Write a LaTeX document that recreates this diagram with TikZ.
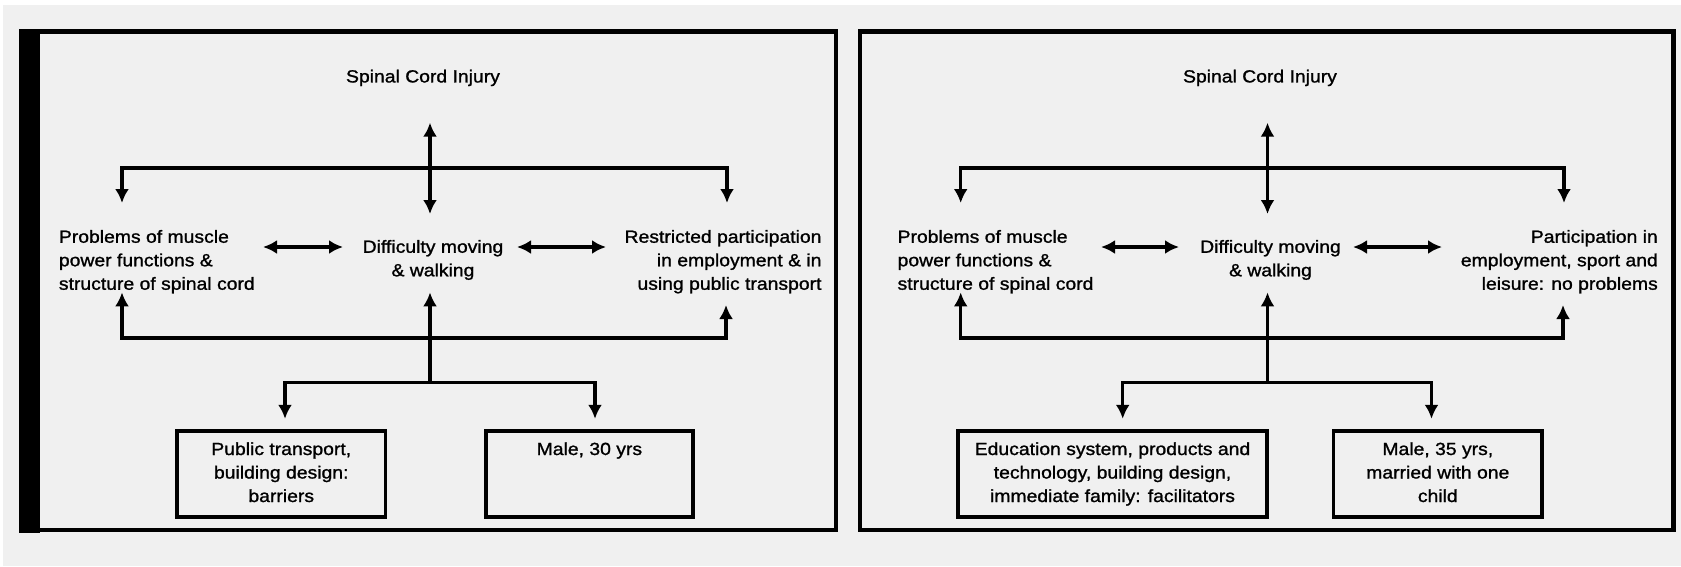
\documentclass[tikz,border=0pt]{standalone}
\usepackage{fontspec}
\setmainfont{Liberation Sans}[FakeStretch=1.1, FakeBold=1.2]
\usetikzlibrary{arrows.meta}
\definecolor{bgc}{HTML}{F0F0F0}
\newcommand{\fsz}{\fontsize{17.6pt}{23.5pt}\selectfont}
\newcommand{\firstline}{\rule{0pt}{24pt}}
\begin{document}
\begin{tikzpicture}[x=1pt,y=-1pt,
  conn/.style={line width=3.2pt, >={Latex[length=14pt,width=14pt]}},
  frame/.style={draw=black, line width=4.5pt},
  lbl/.style={inner sep=0pt, font=\fsz},
  boxnode/.style={draw=black, line width=3.8pt, inner sep=0pt, font=\fsz}]
\useasboundingbox (0,0) rectangle (1681,566);
\fill[bgc] (0,0) rectangle (1681,566);
\fill[white] (0,0) rectangle (1681,5);
\fill[white] (0,0) rectangle (3,566);

% ---------------- left panel ----------------
\draw[frame] (30,31.5) rectangle (836,530);
\fill[black] (18.7,29) rectangle (40,533);

\node[lbl, anchor=north] (Lsci) at (423,69.5) {Spinal Cord Injury};
\node[lbl, anchor=north west, align=left] (Lbody) at (58.7,229.8) {Problems of muscle\\power functions \&\\structure of spinal cord};
\node[lbl, anchor=north, align=center] (Lmove) at (433,239.8) {Difficulty moving\\\& walking};
\node[lbl, anchor=north east, align=right] (Lpart) at (821.7,229.8) {Restricted participation\\in employment \& in\\using public transport};
\node[boxnode] (Lenv) at (281.25,474) {\parbox[c][86pt][t]{208.5pt}{\centering\firstline Public transport,\\building design:\\barriers}};
\node[boxnode] (Lpers) at (589.4,474) {\parbox[c][86pt][t]{206.8pt}{\centering\firstline Male, 30 yrs}};

\coordinate (LsciB) at (430,122.7);
\coordinate (LmoveT) at (430,214);
\coordinate (LjT) at (430,168);
\coordinate (LbodyT) at (122,203);
\coordinate (LpartT) at (727,203);
\coordinate (LbodyR) at (263,247);
\coordinate (LmoveL) at (343,247);
\coordinate (LmoveR) at (517,247);
\coordinate (LpartL) at (606,247);
\coordinate (LjB) at (430,338);
\coordinate (LbodyB) at (122,292.4);
\coordinate (LpartB) at (726,305);
\coordinate (LmoveB) at (430,292.4);
\coordinate (LjE) at (430,382.7);
\coordinate (LenvT) at (285,418.8);
\coordinate (LpersT) at (595,418.8);

\draw[conn,<->] (LsciB) -- (LmoveT);
\draw[conn,->] (LjT) -| (LbodyT);
\draw[conn,->] (LjT) -| (LpartT);
\draw[conn,<->] (LbodyR) -- (LmoveL);
\draw[conn,<->] (LmoveR) -- (LpartL);
\draw[conn,->] (LjB) -| (LbodyB);
\draw[conn,->] (LjB) -| (LpartB);
\draw[conn,->] (LjE) -- (LmoveB);
\draw[conn,->] (LjE) -| (LenvT);
\draw[conn,->] (LjE) -| (LpersT);

% ---------------- right panel ----------------
\draw[frame] (860,31.5) rectangle (1673.5,530);

\node[lbl, anchor=north] (Rsci) at (1260,69.5) {Spinal Cord Injury};
\node[lbl, anchor=north west, align=left] (Rbody) at (897.4,229.8) {Problems of muscle\\power functions \&\\structure of spinal cord};
\node[lbl, anchor=north, align=center] (Rmove) at (1270.5,239.8) {Difficulty moving\\\& walking};
\node[lbl, anchor=north east, align=right] (Rpart) at (1658,229.8) {Participation in\\employment, sport and\\leisure: no problems};
\node[boxnode] (Renv) at (1112.5,474) {\parbox[c][86pt][t]{309pt}{\centering\firstline Education system, products and\\technology, building design,\\immediate family: facilitators}};
\node[boxnode] (Rpers) at (1437.8,474) {\parbox[c][86pt][t]{208.8pt}{\centering\firstline Male, 35 yrs,\\married with one\\child}};

\coordinate (RsciB) at (1267.5,122.7);
\coordinate (RmoveT) at (1267.5,214);
\coordinate (RjT) at (1267.5,168);
\coordinate (RbodyT) at (960.7,203);
\coordinate (RpartT) at (1564,203);
\coordinate (RbodyR) at (1101,247);
\coordinate (RmoveL) at (1179,247);
\coordinate (RmoveR) at (1353,247);
\coordinate (RpartL) at (1442,247);
\coordinate (RjB) at (1267.5,338);
\coordinate (RbodyB) at (960.7,292.4);
\coordinate (RpartB) at (1563,305);
\coordinate (RmoveB) at (1267.5,292.4);
\coordinate (RjE) at (1267.5,382.7);
\coordinate (RenvT) at (1122.7,418.8);
\coordinate (RpersT) at (1431.5,418.8);

\draw[conn,<->] (RsciB) -- (RmoveT);
\draw[conn,->] (RjT) -| (RbodyT);
\draw[conn,->] (RjT) -| (RpartT);
\draw[conn,<->] (RbodyR) -- (RmoveL);
\draw[conn,<->] (RmoveR) -- (RpartL);
\draw[conn,->] (RjB) -| (RbodyB);
\draw[conn,->] (RjB) -| (RpartB);
\draw[conn,->] (RjE) -- (RmoveB);
\draw[conn,->] (RjE) -| (RenvT);
\draw[conn,->] (RjE) -| (RpersT);
\end{tikzpicture}
\end{document}
